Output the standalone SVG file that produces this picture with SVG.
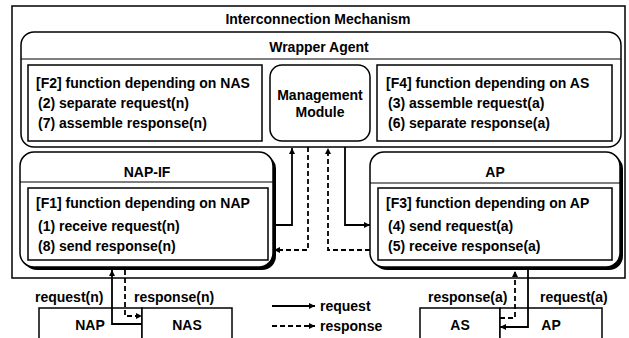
<svg xmlns="http://www.w3.org/2000/svg" width="629" height="338" viewBox="0 0 629 338">
<style>
text{font-family:"Liberation Sans",Arial,sans-serif;font-size:14px;font-weight:bold;fill:#000}
.c{text-anchor:middle}
.box{fill:#fff;stroke:#000;stroke-width:1.5}
.sh{fill:#000}
.ln{fill:none;stroke:#000;stroke-width:1.8}
.ds{fill:none;stroke:#000;stroke-width:1.8;stroke-dasharray:5 3}
</style>
<defs>
<marker id="ah" viewBox="0 0 10 10" refX="10" refY="5" markerWidth="7" markerHeight="6" markerUnits="userSpaceOnUse" orient="auto">
<path d="M0,0 L10,5 L0,10 z" fill="#000"/>
</marker>
</defs>
<rect width="629" height="338" fill="#fff"/>
<g id="interconnection">
<rect class="box" x="12" y="6" width="613" height="272"/>
<text class="c" x="318" y="24">Interconnection Mechanism</text>
</g>
<g id="wrapper">
<rect class="box" x="21" y="32" width="600" height="115" rx="13"/>
<line x1="21" y1="59" x2="621" y2="59" stroke="#000" stroke-width="1.2"/>
<text class="c" x="319" y="52">Wrapper Agent</text>
</g>
<g id="f2">
<rect class="box" x="28" y="65" width="234" height="76"/>
<text x="36" y="88">[F2] function depending on NAS</text>
<text x="38" y="108">(2) separate request(n)</text>
<text x="38" y="128">(7) assemble response(n)</text>
</g>
<g id="mm">
<rect class="box" x="270" y="65" width="100" height="76" rx="12"/>
<text class="c" x="320" y="100">Management</text>
<text class="c" x="320" y="117">Module</text>
</g>
<g id="f4">
<rect class="box" x="377" y="65" width="235" height="76"/>
<text x="386" y="88">[F4] function depending on AS</text>
<text x="388" y="108">(3) assemble request(a)</text>
<text x="388" y="128">(6) separate response(a)</text>
</g>
<g id="napif">
<rect class="sh" x="23" y="155" width="253" height="115" rx="14"/>
<rect class="box" x="20" y="152" width="253" height="115" rx="14"/>
<line x1="20" y1="182" x2="273" y2="182" stroke="#000" stroke-width="1.2"/>
<text class="c" x="147" y="177">NAP-IF</text>
<rect class="box" x="28" y="188" width="240" height="72"/>
<text x="36" y="208">[F1] function depending on NAP</text>
<text x="38" y="231">(1) receive request(n)</text>
<text x="38" y="251">(8) send response(n)</text>
</g>
<g id="ap">
<rect class="sh" x="373" y="155" width="250" height="115" rx="14"/>
<rect class="box" x="370" y="152" width="250" height="115" rx="14"/>
<line x1="370" y1="183" x2="620" y2="183" stroke="#000" stroke-width="1.2"/>
<text class="c" x="495" y="177">AP</text>
<rect class="box" x="378" y="188" width="234" height="72"/>
<text x="386" y="208">[F3] function depending on AP</text>
<text x="388" y="231">(4) send request(a)</text>
<text x="388" y="251">(5) receive response(a)</text>
</g>
<g id="nap">
<rect class="box" x="39" y="308" width="103" height="34"/>
<text class="c" x="90" y="330">NAP</text>
</g>
<g id="nas">
<rect class="box" x="142" y="308" width="90" height="34"/>
<text class="c" x="187" y="330">NAS</text>
</g>
<g id="as">
<rect class="box" x="420" y="308" width="80" height="34"/>
<text class="c" x="460" y="330">AS</text>
</g>
<g id="apx">
<rect class="box" x="500" y="308" width="102" height="34"/>
<text class="c" x="551" y="330">AP</text>
</g>
<g id="labels">
<text x="35" y="302">request(n)</text>
<text x="134" y="302">response(n)</text>
<text x="428" y="302">response(a)</text>
<text x="540" y="302">request(a)</text>
</g>
<g id="legend">
<line class="ln" x1="272" y1="306" x2="315" y2="306" marker-end="url(#ah)"/>
<text x="320" y="311">request</text>
<line class="ds" x1="272" y1="326" x2="315" y2="326" marker-end="url(#ah)"/>
<text x="320" y="331">response</text>
</g>
<g id="connectors">
<path class="ln" d="M142,324 H112 V270" marker-end="url(#ah)"/>
<path class="ds" d="M125,270 V316 H142" marker-end="url(#ah)"/>
<path class="ln" d="M273,225 H292 V148" marker-end="url(#ah)"/>
<path class="ds" d="M308,147 V250 H274" marker-end="url(#ah)"/>
<path class="ln" d="M345,147 V225 H370" marker-end="url(#ah)"/>
<path class="ds" d="M370,250 H328 V148" marker-end="url(#ah)"/>
<path class="ln" d="M528,270 V327 H500" marker-end="url(#ah)"/>
<path class="ds" d="M500,318 H515 V271" marker-end="url(#ah)"/>
</g>
</svg>
